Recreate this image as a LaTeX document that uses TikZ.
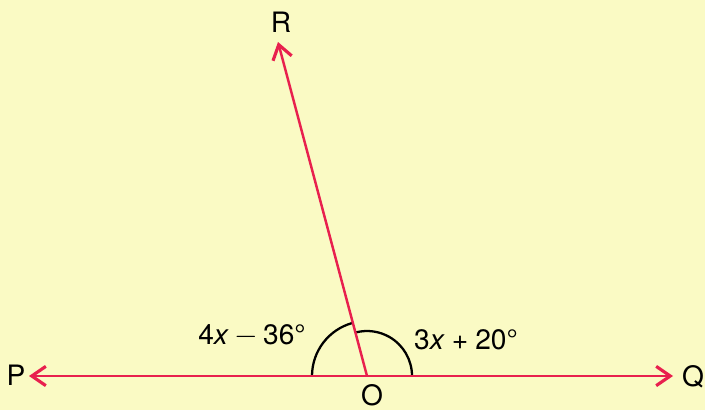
\documentclass[tikz,border=0pt]{standalone}
\usepackage{fontspec}
\setmainfont{TeX Gyre Heros}
\usepackage{xcolor}
\usetikzlibrary{arrows.meta, positioning}
\definecolor{paleyellow}{RGB}{250, 250, 196}
\definecolor{rayred}{RGB}{232, 32, 78}

\begin{document}
\begin{tikzpicture}[x=0.02cm, y=0.02cm,
    ray/.style={rayred, line width=1.4pt,
      -{Straight Barb[length=8pt, width=11pt, line width=1.8pt]}},
    anglearc/.style={black, line width=1.3pt},
    lbl/.style={font=\fontsize{16}{19}\selectfont, inner sep=0pt}]
    % background
    \fill[paleyellow] (0,0) rectangle (705,410);
    \useasboundingbox (0,0) rectangle (705,410);
    % points
    \coordinate (O) at (367,34);
    \coordinate (P) at (29,34);
    \coordinate (Q) at (673,34);
    \coordinate (R) at (278,368);
    % angle arcs
    \draw[anglearc] ([shift={(180:55)}]O) arc (180:105:55);
    \draw[anglearc] ([shift={(0:45)}]O) arc (0:104:45);
    % rays
    \draw[ray] (O) -- (P);
    \draw[ray] (O) -- (Q);
    \draw[ray] (O) -- (R);
    % labels
    \node[lbl] (labR) at (281,388) {R};
    \node[lbl] (labP) at (16,35) {P};
    \node[lbl] (labQ) at (693,33) {Q};
    \node[lbl] (labO) at (372,15) {O};
    \node[lbl] (angL) at (252,74) {4\textit{x}\kern3pt$-$\kern3pt36°};
    \node[lbl] (angR) at (466,70) {3\textit{x}\kern4pt+\kern4pt20°};
\end{tikzpicture}
\end{document}
